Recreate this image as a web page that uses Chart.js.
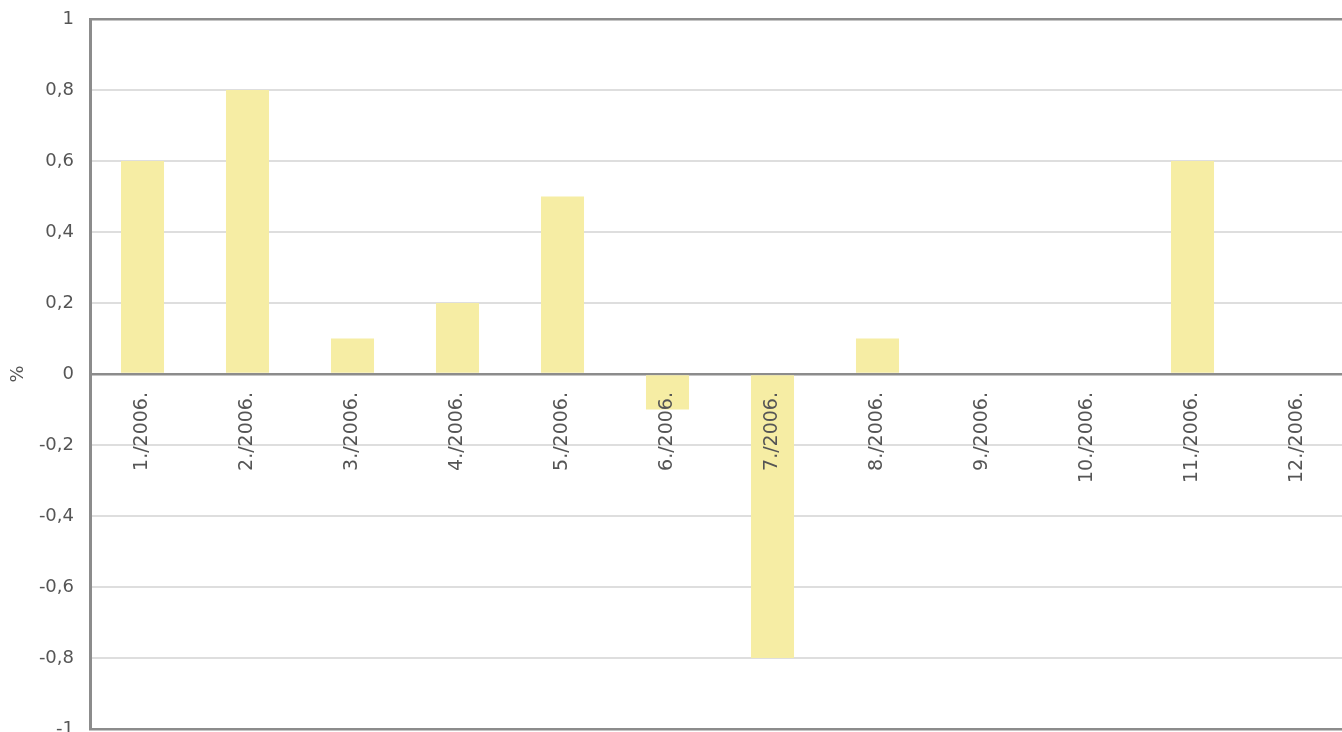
<!DOCTYPE html>
<html>
<head>
<meta charset="utf-8">
<script src="https://cdn.jsdelivr.net/npm/chart.js@4/dist/chart.umd.min.js"></script>
<style>
  html, body { margin: 0; padding: 0; background: #fff; overflow: hidden; }
  #wrap { position: relative; width: 1350px; height: 732px; }
</style>
</head>
<body>
<div id="wrap"><canvas id="grafico"></canvas></div>
<script>
// Monatliche Veränderung in %
const meseci = ['1./2006.', '2./2006.', '3./2006.', '4./2006.', '5./2006.', '6./2006.',
                '7./2006.', '8./2006.', '9./2006.', '10./2006.', '11./2006.', '12./2006.'];
const promjena = [0.6, 0.8, 0.1, 0.2, 0.5, -0.1, -0.8, 0.1, 0, 0, 0.6, 0];
const yTicks = [1, 0.8, 0.6, 0.4, 0.2, 0, -0.2, -0.4, -0.6, -0.8, -1];

const sivaTamna = '#8c8c8c';
const sivaSvijetla = '#dedede';

new Chart(document.getElementById('grafico'), {
    type: 'bar',
    data: {
        labels: meseci,
        datasets: [{
            label: '%',
            data: promjena,
            backgroundColor: '#f6eda4',
            borderWidth: 0,
            barPercentage: 0.41,
            categoryPercentage: 1
        }]
    },
    options: {
        responsive: true,
        maintainAspectRatio: false,
        animation: false,
        layout: { padding: { top: 19, bottom: 3, left: 0, right: 0 } },
        plugins: {
            legend: { display: false },
            tooltip: { enabled: false }
        },
        scales: {
            x: {
                position: { y: 0 },
                grid: { display: false, drawTicks: false },
                border: { display: false },
                ticks: {
                    z: 1, // natpisi iznad stupaca
                    minRotation: 90,
                    maxRotation: 90,
                    padding: 18,
                    color: '#555',
                    font: { family: 'DejaVu Sans', size: 19 },
                    autoSkip: false
                },
                afterFit: (s) => { s.paddingLeft = 0; s.paddingRight = 0; }
            },
            y: {
                min: -1,
                max: 1,
                afterBuildTicks: (s) => { s.ticks = yTicks.map(v => ({ value: v })); },
                afterFit: (s) => { s.width = 90; s.paddingTop = 0; s.paddingBottom = 0; },
                grid: {
                    drawTicks: false,
                    color: (c) => [1, 0, -1].includes(c.tick && c.tick.value) ? sivaTamna : sivaSvijetla,
                    lineWidth: (c) => [1, 0, -1].includes(c.tick && c.tick.value) ? 2.5 : 2
                },
                border: { display: true, color: sivaTamna, width: 3 },
                ticks: {
                    padding: 16,
                    color: '#555',
                    font: { family: 'DejaVu Sans', size: 18 },
                    callback: (v) => String(v).replace('.', ',')
                },
                title: {
                    display: true,
                    text: '%',
                    color: '#555',
                    font: { family: 'DejaVu Sans', size: 18 },
                    padding: { top: 8 }
                }
            }
        }
    }
});
</script>
</body>
</html>
